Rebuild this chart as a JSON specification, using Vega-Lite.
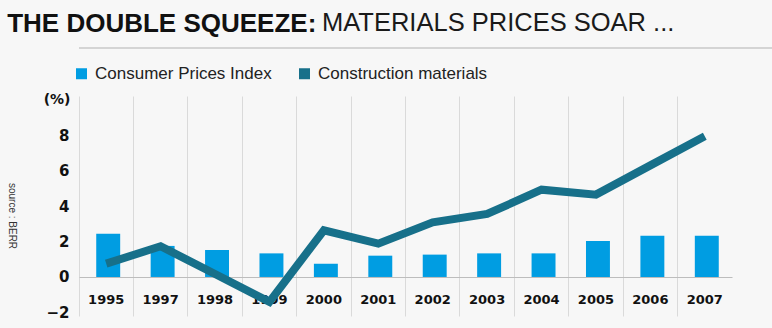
{
  "$schema": "https://vega.github.io/schema/vega-lite/v6.json",
  "background": "#f7f7f7",
  "padding": {"left": 7, "top": 10, "right": 8, "bottom": 12},
  "title": {"text": "THE DOUBLE SQUEEZE:", "anchor": "start", "frame": "bounds", "font": "Liberation Sans", "fontSize": 26, "fontWeight": "bold", "color": "#111111", "offset": 0, "dy": 26},
  "config": {"view": {"stroke": null}, "font": "Liberation Sans"},
  "datasets": {
    "prices": [
      {"year": "1995", "series": "Consumer Prices Index", "value": 2.44},
      {"year": "1997", "series": "Consumer Prices Index", "value": 1.75},
      {"year": "1998", "series": "Consumer Prices Index", "value": 1.52},
      {"year": "1999", "series": "Consumer Prices Index", "value": 1.33},
      {"year": "2000", "series": "Consumer Prices Index", "value": 0.75},
      {"year": "2001", "series": "Consumer Prices Index", "value": 1.2},
      {"year": "2002", "series": "Consumer Prices Index", "value": 1.26},
      {"year": "2003", "series": "Consumer Prices Index", "value": 1.33},
      {"year": "2004", "series": "Consumer Prices Index", "value": 1.33},
      {"year": "2005", "series": "Consumer Prices Index", "value": 2.03},
      {"year": "2006", "series": "Consumer Prices Index", "value": 2.33},
      {"year": "2007", "series": "Consumer Prices Index", "value": 2.33},
      {"year": "1995", "series": "Construction materials", "value": 0.75},
      {"year": "1997", "series": "Construction materials", "value": 1.73},
      {"year": "1998", "series": "Construction materials", "value": 0.17},
      {"year": "1999", "series": "Construction materials", "value": -1.4},
      {"year": "2000", "series": "Construction materials", "value": 2.63},
      {"year": "2001", "series": "Construction materials", "value": 1.88},
      {"year": "2002", "series": "Construction materials", "value": 3.08},
      {"year": "2003", "series": "Construction materials", "value": 3.55},
      {"year": "2004", "series": "Construction materials", "value": 4.92},
      {"year": "2005", "series": "Construction materials", "value": 4.64},
      {"year": "2006", "series": "Construction materials", "value": 6.29},
      {"year": "2007", "series": "Construction materials", "value": 7.93}
    ]
  },
  "spacing": 16,
  "align": "none",
  "resolve": {"scale": {"color": "independent"}, "legend": {"color": "independent"}},
  "vconcat": [
    {
      "width": 758,
      "height": 2,
      "view": {"fill": "#d4d4d4", "stroke": null},
      "title": {"text": "MATERIALS PRICES SOAR ...", "anchor": "start", "frame": "bounds", "font": "Liberation Sans", "fontSize": 25.5, "fontWeight": "normal", "color": "#1a1a1a", "offset": 11, "dx": 243},
      "data": {"values": []},
      "mark": "point",
      "encoding": {}
    },
    {
      "width": 653,
      "height": 220,
      "title": {"text": "source : BERR", "orient": "left", "angle": 90, "anchor": "middle", "font": "Liberation Sans", "fontSize": 10, "fontWeight": "normal", "color": "#333333", "offset": 16, "dx": 10},
      "data": {"name": "prices"},
      "encoding": {
        "x": {
          "field": "year", "type": "ordinal", "sort": null,
          "scale": {"paddingInner": 0, "paddingOuter": 0},
          "axis": {"title": null, "labelAngle": 0, "bandPosition": 0, "labelPadding": -12.5, "labelBaseline": "alphabetic", "labelFont": "DejaVu Sans", "labelFontSize": 13, "labelFontWeight": "bold", "labelColor": "#111111", "ticks": false, "tickSize": 0, "domain": false, "grid": true, "gridColor": "#dadada", "gridWidth": 1, "labelOverlap": false}
        },
        "y": {
          "field": "value", "type": "quantitative",
          "scale": {"domain": [-2.2, 10.2], "nice": false, "zero": false},
          "axis": {"values": [-2, 0, 2, 4, 6, 8], "title": "(%)", "titleAngle": 0, "titleAlign": "right", "titleBaseline": "middle", "titleX": -9, "titleY": 3, "titleFont": "DejaVu Sans", "titleFontSize": 14, "titleFontWeight": "bold", "titleColor": "#111111", "labelFont": "DejaVu Sans", "labelFontSize": 15, "labelFontWeight": "bold", "labelColor": "#111111", "labelPadding": 10, "ticks": false, "tickSize": 0, "domain": false, "grid": true, "gridColor": "#bdbdbd", "gridWidth": 1.2, "gridOpacity": {"condition": {"test": "datum.value === 0", "value": 1}, "value": 0}}
        },
        "color": {
          "field": "series", "type": "nominal",
          "scale": {"domain": ["Consumer Prices Index", "Construction materials"], "range": ["#009de2", "#17708a"]},
          "legend": {"title": null, "orient": "none", "legendX": -6, "legendY": -31, "direction": "horizontal", "symbolType": "square", "symbolSize": 121, "symbolStrokeWidth": 0, "labelFont": "Liberation Sans", "labelFontSize": 17, "labelColor": "#222222", "labelOffset": 5, "columnPadding": 24, "padding": 0, "labelLimit": 300}
        }
      },
      "layer": [
        {
          "transform": [{"filter": "datum.series === 'Consumer Prices Index'"}],
          "mark": {"type": "bar", "width": {"band": 0.44}, "xOffset": 2}
        },
        {
          "transform": [{"filter": "datum.series === 'Construction materials'"}],
          "mark": {"type": "line", "strokeWidth": 8, "strokeJoin": "miter", "strokeCap": "butt"}
        }
      ]
    }
  ]
}
